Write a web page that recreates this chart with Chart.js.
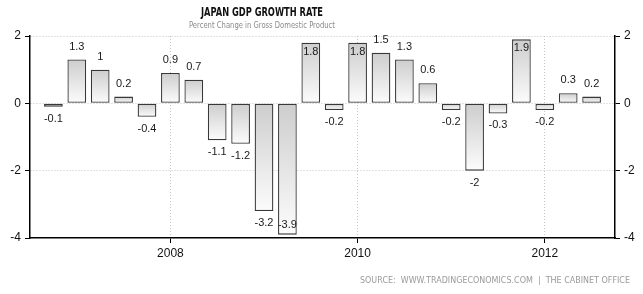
<!DOCTYPE html>
<html>
<head>
<meta charset="utf-8">
<script src="https://cdn.jsdelivr.net/npm/chart.js@4/dist/chart.umd.min.js"></script>
<style>
  body { margin: 0; background: #fff; }
  #chart { display: block; }
</style>
</head>
<body>
<canvas id="chart" width="643" height="294"></canvas>
<script>
// quarters (dated by quarter end, so Q4 sits on the new year tick)
const quarters = [
  "2006Q3", "2006Q4", "2007Q1", "2007Q2", "2007Q3", "2007Q4",
  "2008Q1", "2008Q2", "2008Q3", "2008Q4", "2009Q1", "2009Q2",
  "2009Q3", "2009Q4", "2010Q1", "2010Q2", "2010Q3", "2010Q4",
  "2011Q1", "2011Q2", "2011Q3", "2011Q4", "2012Q1", "2012Q2",
];
const growth = [
  -0.1, 1.3, 1, 0.2, -0.4, 0.9,
  0.7, -1.1, -1.2, -3.2, -3.9, 1.8,
  -0.2, 1.8, 1.5, 1.3, 0.6, -0.2,
  -2, -0.3, 1.9, -0.2, 0.3, 0.2,
];
const tickQuarters = ["2007Q4", "2009Q4", "2011Q4"];
const tickLabels = ["2008", "2010", "2012"];
const yTicks = [-4, -2, 0, 2];

const chartTitle = "JAPAN GDP GROWTH RATE";
const chartSubtitle = "Percent Change in Gross Domestic Product";
const sourceText = "SOURCE:  WWW.TRADINGECONOMICS.COM  |  THE CABINET OFFICE";

// one empty slot at each end
const labels = [""].concat(quarters, [""]);
const values = [null].concat(growth, [null]);

function isYearTick(index) {
  return tickQuarters.indexOf(labels[index]) >= 0;
}

function barFill(c) {
  const chart = c.chart;
  const v = c.raw;
  if (v == null || !chart.chartArea) return "#dddddd";
  const ys = chart.scales.y;
  const p0 = ys.getPixelForValue(0);
  const p1 = ys.getPixelForValue(v);
  const g = chart.ctx.createLinearGradient(0, Math.min(p0, p1), 0, Math.max(p0, p1));
  g.addColorStop(0, "#cdcdcd");
  g.addColorStop(1, "#fcfcfc");
  return g;
}

const valueLabels = {
  id: "valueLabels",
  afterDatasetsDraw(chart) {
    const ctx = chart.ctx;
    const area = chart.chartArea;
    const meta = chart.getDatasetMeta(0);
    ctx.save();
    ctx.font = "11px 'Liberation Sans', Arial, sans-serif";
    ctx.fillStyle = "#1a1a1a";
    ctx.textAlign = "center";
    ctx.textBaseline = "middle";
    meta.data.forEach((bar, i) => {
      const v = values[i];
      if (v == null) return;
      let y;
      if (v >= 0) {
        y = bar.y - 13;
        if (y < area.top + 2) y = bar.y + 9;
      } else {
        y = bar.y + 12;
        if (y > area.bottom - 6) y = bar.y - 10;
      }
      ctx.fillText(String(v), bar.x, y);
    });
    ctx.restore();
  },
};

const headerText = {
  id: "headerText",
  afterDraw(chart) {
    const ctx = chart.ctx;
    ctx.save();
    ctx.textAlign = "center";
    ctx.textBaseline = "middle";
    ctx.fillStyle = "#111";
    ctx.font = "bold 12px 'DejaVu Sans Condensed', 'DejaVu Sans', sans-serif";
    ctx.fillText(chartTitle, 262, 13, 122);
    ctx.fillStyle = "#8a8a8a";
    ctx.font = "9px 'DejaVu Sans Condensed', 'DejaVu Sans', sans-serif";
    ctx.fillText(chartSubtitle, 262, 26, 146);
    ctx.textAlign = "right";
    ctx.fillStyle = "#9a9a9a";
    ctx.font = "8px 'DejaVu Sans', sans-serif";
    ctx.fillText(sourceText, 630, 281, 270);
    ctx.restore();
  },
};

const gridColor = "#c4c4c4";
const tickFont = { family: "'Liberation Sans', Arial, sans-serif", size: 12 };

const chart = new Chart(document.getElementById("chart"), {
  type: "bar",
  data: {
    labels: labels,
    datasets: [{
      data: values,
      backgroundColor: barFill,
      borderColor: "#383838",
      borderWidth: 1.3,
      borderSkipped: false,
      barPercentage: 0.8,
      categoryPercentage: 1,
    }],
  },
  options: {
    responsive: false,
    animation: false,
    layout: { padding: { top: 36 } },
    plugins: { legend: { display: false }, tooltip: { enabled: false } },
    scales: {
      x: {
        offset: false,
        grid: {
          offset: false,
          color: (c) => (isYearTick(c.index) ? gridColor : "transparent"),
          tickColor: (c) => (isYearTick(c.index) ? "#000" : "transparent"),
          tickLength: 5,
          lineWidth: 1,
        },
        border: { display: true, color: "#000", width: 1.5, dash: [1, 2] },
        ticks: {
          autoSkip: false,
          maxRotation: 0,
          padding: 3,
          color: "#111",
          font: tickFont,
          callback: function (value, index) {
            const k = tickQuarters.indexOf(labels[index]);
            return k >= 0 ? tickLabels[k] : "";
          },
        },
        afterFit: (s) => { s.height = 56; },
      },
      y: {
        position: "left",
        min: -4,
        max: 2,
        afterBuildTicks: (s) => { s.ticks = yTicks.map((v) => ({ value: v })); },
        grid: {
          color: (c) => (c.tick && c.tick.value === -4 ? "transparent" : gridColor),
          tickColor: "#000",
          tickLength: 5,
        },
        border: { display: true, color: "#000", width: 1.5, dash: [1, 2] },
        ticks: { padding: 4, color: "#111", font: tickFont },
        afterFit: (s) => { s.width = 30; },
      },
      y2: {
        position: "right",
        min: -4,
        max: 2,
        afterBuildTicks: (s) => { s.ticks = yTicks.map((v) => ({ value: v })); },
        grid: { drawOnChartArea: false, tickColor: "#000", tickLength: 5 },
        border: { display: true, color: "#000", width: 1.5 },
        ticks: { padding: 4, color: "#111", font: tickFont },
        afterFit: (s) => { s.width = 28; },
      },
    },
  },
  plugins: [valueLabels, headerText],
});
</script>
</body>
</html>
